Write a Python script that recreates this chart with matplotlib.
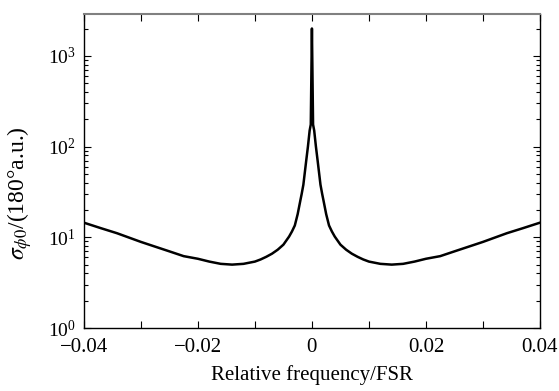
import numpy as np
import matplotlib.pyplot as plt
from matplotlib.ticker import LogLocator, MultipleLocator, FixedLocator, FixedFormatter

plt.rcParams['font.family'] = ['Liberation Serif', 'DejaVu Serif']
plt.rcParams['mathtext.fontset'] = 'stix'

# right half of the curve (the curve is symmetric about 0)
freq_half = [0.0, 0.0002, 0.0004, 0.0007, 0.001, 0.0015, 0.0018, 0.002, 0.0025,
             0.003, 0.0035, 0.004, 0.005, 0.006, 0.007, 0.008, 0.009, 0.01,
             0.012, 0.014, 0.016, 0.018, 0.02, 0.0225, 0.025, 0.0283, 0.03,
             0.0342, 0.037, 0.04]
sigma_half = [2000, 175, 150, 100, 70, 38, 30, 26, 18,
              13.5, 11.6, 10.2, 8.3, 7.3, 6.6, 6.1, 5.7, 5.4,
              5.1, 5.0, 5.1, 5.4, 5.8, 6.2, 7.0, 8.2, 8.9,
              11.1, 12.6, 14.5]

x_ticks = [-0.04, -0.02, 0, 0.02, 0.04]
x_tick_labels = ['\u22120.04', '\u22120.02', '0', '0.02', '0.04']

freq = np.concatenate([-np.array(freq_half[:0:-1]), freq_half])
sigma = np.concatenate([np.array(sigma_half[:0:-1]), sigma_half])

fig = plt.figure(figsize=(5.59, 3.91), dpi=100)
ax = fig.add_axes([0.150, 0.161, 0.816, 0.803])

ax.plot(freq, sigma, color='black', lw=1.8)

ax.set_yscale('log')
ax.set_xlim(-0.04, 0.04)
ax.set_ylim(1, 10 ** 3.46)

ax.xaxis.set_major_locator(FixedLocator(x_ticks))
ax.xaxis.set_major_formatter(FixedFormatter(x_tick_labels))
ax.xaxis.set_minor_locator(MultipleLocator(0.01))
ax.yaxis.set_major_locator(LogLocator(base=10, numticks=10))
ax.yaxis.set_minor_locator(LogLocator(base=10, subs=np.arange(2, 10), numticks=10))

ax.tick_params(which='both', direction='in', top=True, right=True,
               pad=6, width=0.8)
ax.tick_params(axis='x', labelsize=15, pad=7)
ax.tick_params(axis='y', labelsize=14)
ax.tick_params(which='major', length=5)
ax.tick_params(which='minor', length=3)
ax.tick_params(axis='x', which='minor', length=5)

for s in ['left', 'right', 'bottom']:
    ax.spines[s].set_color('black')
    ax.spines[s].set_linewidth(1.0)
ax.spines['top'].set_color('#808080')
ax.spines['top'].set_linewidth(1.5)

ax.set_xlabel('Relative frequency/FSR', fontsize=15, labelpad=6)
ax.set_ylabel(r'$\sigma_{\phi0}$/(180°a.u.)', fontsize=17)
ax.yaxis.set_label_coords(-0.11, 0.43)

fig.savefig('out.png', dpi=100)
